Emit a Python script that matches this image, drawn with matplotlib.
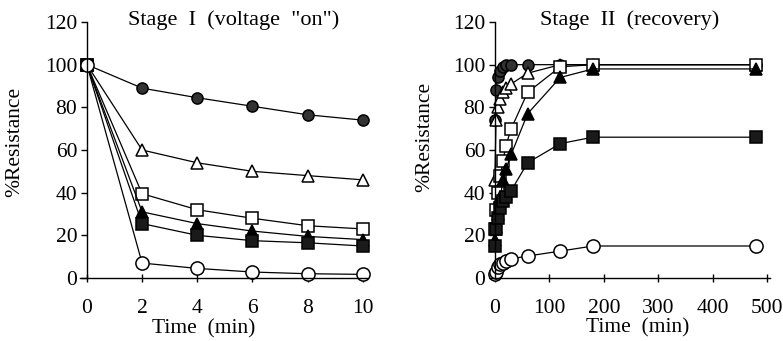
import matplotlib
matplotlib.use('Agg')
import matplotlib.pyplot as plt
import numpy as np

plt.rcParams['font.family'] = ['Liberation Serif', 'DejaVu Serif']

# Stage I (voltage "on")
t1 = [0, 2, 4, 6, 8, 10]
s1_fcirc = [100, 89, 84.5, 80.5, 76.5, 74]
s1_otri = [100, 60, 54, 50, 48, 46]
s1_osq = [100, 39.5, 32, 28, 24.5, 23]
s1_ftri = [100, 31, 25.5, 22, 19.5, 18]
s1_fsq = [100, 25.5, 20, 17.5, 16.5, 15]
s1_ocirc = [100, 7, 4.5, 2.8, 2, 1.7]

# Stage II (recovery)
t2 = [0, 2, 5, 10, 15, 20, 30, 60, 120, 180, 480]
s2_fcirc = [74, 88, 94, 97, 99, 100, 100, 100, 100, 100, 100]
s2_otri = [46, 74, 80, 84, 87, 89, 91, 96, 100, 100, 100]
s2_osq = [23, 32, 40, 48, 55, 62, 70, 87, 99, 100, 100]
s2_ftri = [18, 24, 30, 38, 46, 51, 58, 77, 94, 98, 98]
s2_fsq = [15, 23, 28, 33, 36, 38, 41, 54, 63, 66, 66]
s2_ocirc = [1.7, 3, 5, 6.4, 7.2, 8, 9, 10.3, 12.6, 15, 15]

styles = [
    dict(marker='o', ms=8, mfc='0.2', mec='k'),
    dict(marker='^', ms=9, mfc='white', mec='k'),
    dict(marker='s', ms=8.5, mfc='white', mec='k'),
    dict(marker='^', ms=9, mfc='k', mec='k'),
    dict(marker='s', ms=8.5, mfc='0.1', mec='k'),
    dict(marker='o', ms=9.5, mfc='white', mec='k'),
]

fig = plt.figure(figsize=(7.83, 3.41), dpi=100)
ax1 = fig.add_axes([80/783, 63/341, 287/783, 256/341])
ax2 = fig.add_axes([490/783, 63/341, 280/783, 256/341])

for ser, st in zip([s1_fcirc, s1_otri, s1_osq, s1_ftri, s1_fsq, s1_ocirc], styles):
    ax1.plot(t1, ser, color='k', lw=0.9, mew=1.1, clip_on=False, **st)
for ser, st in zip([s2_fcirc, s2_otri, s2_osq, s2_ftri, s2_fsq, s2_ocirc], styles):
    ax2.plot(t2, ser, color='k', lw=0.9, mew=1.1, clip_on=False, **st)

ax1.set_xlim(-0.25, 10.15)
ax1.set_xticks([0, 2, 4, 6, 8, 10])
ax2.set_xlim(-9, 505)
ax2.set_xticks([0, 100, 200, 300, 400, 500])

for ax in (ax1, ax2):
    ax.set_ylim(0, 120)
    ax.set_yticks([0, 20, 40, 60, 80, 100, 120])
    ax.spines['top'].set_visible(False)
    ax.spines['right'].set_visible(False)
    ax.spines['left'].set_position(('data', 0))
    ax.spines['left'].set_linewidth(1.0)
    ax.spines['bottom'].set_linewidth(1.0)
    ax.tick_params(axis='y', direction='out', length=4, width=1, labelsize=15.5, pad=3)
    ax.tick_params(axis='x', direction='inout', length=6, width=1, labelsize=15.5, pad=12)

# axis labels
fig.text(204/783, 1 - 329/341, 'Time  (min)', fontsize=15.5, ha='center', va='center')
fig.text(638/783, 1 - 328/341, 'Time  (min)', fontsize=15.5, ha='center', va='center')
fig.text(15/783, 1 - 142/341, '%Resistance', fontsize=15.5, rotation=90,
         ha='center', va='center')
fig.text(425/783, 1 - 137/341, '%Resistance', fontsize=15.5, rotation=90,
         ha='center', va='center')

fig.text(234/783, 1 - 20/341, 'Stage  I  (voltage  "on")', fontsize=16,
         ha='center', va='center')
fig.text(630/783, 1 - 20/341, 'Stage  II  (recovery)', fontsize=16,
         ha='center', va='center')

fig.savefig('out.png', dpi=100)
